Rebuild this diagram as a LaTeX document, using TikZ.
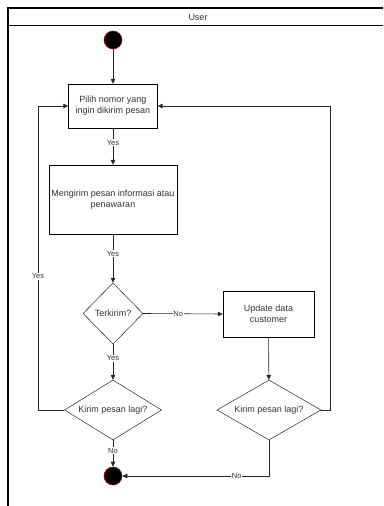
\documentclass[tikz,border=0pt]{standalone}
\usepackage{fontspec}
\setmainfont{Liberation Sans}
\usetikzlibrary{arrows.meta,shapes.geometric,positioning}

\definecolor{txtgray}{HTML}{333333}
\definecolor{ringred}{HTML}{B20000}

\begin{document}
\begin{tikzpicture}[
  x=1pt, y=-1pt,
  >={Triangle[length=5pt,width=4.5pt]},
  act/.style={draw, rectangle, fill=white, font=\fontsize{9}{11}\selectfont,
              text=txtgray, align=center, inner sep=1pt},
  choice/.style={draw, diamond, aspect=1.7, fill=white, inner sep=0pt,
                 font=\fontsize{9}{11}\selectfont, text=txtgray},
  dot/.style={circle, fill=black, draw=ringred, line width=0.6pt,
              minimum size=18pt, inner sep=0pt},
  arr/.style={->, line width=0.6pt, draw=black!85},
  lbl/.style={fill=white, font=\fontsize{7.5}{9}\selectfont, text=txtgray,
              inner sep=0.8pt}]

\useasboundingbox (0,0) rectangle (383,506);
\clip (0,0) rectangle (383,506);

% Swimlane frame
\draw[line width=1.6pt] (8,520) -- (8,8) -- (400,8);
\draw[line width=0.8pt] (8,25) -- (400,25);
\node[font=\fontsize{9}{11}\selectfont, text=txtgray] (lane) at (198,17) {User};

% Main column
\node[dot] (start) at (113,40) {};
\node[act, minimum width=89pt, minimum height=44pt] (pilih) at (113,106)
  {Pilih nomor yang\\ingin dikirim pesan};
\node[act, minimum width=128pt, minimum height=69pt] (kirim) at (113,199.5)
  {Mengirim pesan informasi atau\\penawaran};
\node[choice, minimum width=60pt, minimum height=61pt] (cek) at (113,313.5)
  {Terkirim?};
\node[choice, minimum width=97pt, minimum height=60pt] (lagiA) at (113,410)
  {Kirim pesan lagi?};
\node[dot] (stop) at (113,476) {};

% Right column
\node[act, minimum width=91pt, minimum height=46pt] (update) at (268.5,314)
  {Update data\\customer};
\node[choice, minimum width=104pt, minimum height=60pt] (lagiB) at (269,410)
  {Kirim pesan lagi?};

% Bend points of the loops
\coordinate (loopL) at (38,0);
\coordinate (loopR) at (330,0);
\coordinate (turnB) at (269,476);

% Forward chain
\draw[arr] (start) -- (pilih);
\draw[arr] (pilih) -- node[lbl, pos=0.4] {Yes} (kirim);
\draw[arr] (kirim) -- node[lbl, pos=0.4] {Yes} (cek);
\draw[arr] (cek) -- node[lbl, pos=0.4] {Yes} (lagiA);
\draw[arr] (lagiA) -- node[lbl, pos=0.4] {No} (stop);

% Not sent: update the customer first
\draw[arr] (cek.east) -- node[lbl, pos=0.44] {No} (update.west);
\draw[arr] (update) -- (lagiB);

% Loops back to choosing a number
\draw[arr] (lagiA.west) -- (loopL |- lagiA.west) |- node[lbl, pos=0.22] {Yes} (pilih.west);
\draw[arr] (lagiB.east) -- (loopR |- lagiB.east) |- (pilih.east);

% Second exit
\draw[arr] (lagiB.south) -- (turnB) -- node[lbl, pos=0.22] {No} (stop.east);
\end{tikzpicture}
\end{document}
